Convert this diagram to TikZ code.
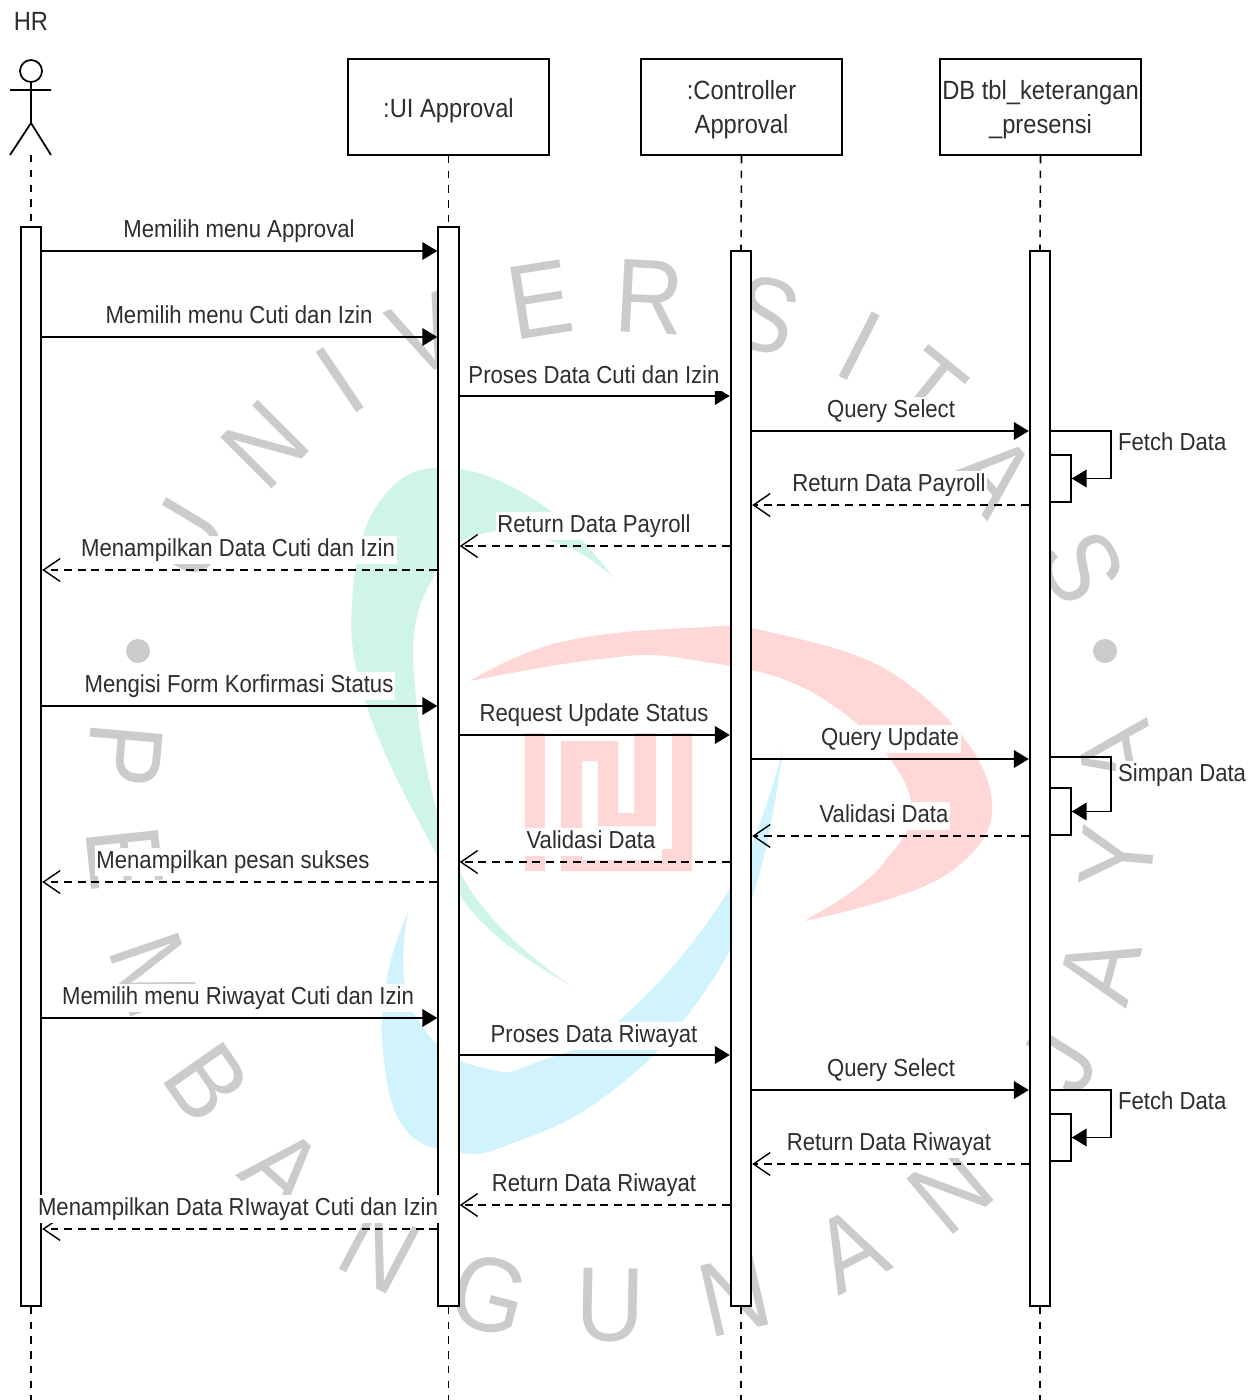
\documentclass[tikz,border=0pt]{standalone}
\usepackage{fontspec}
\setmainfont{Liberation Sans}[FakeStretch=0.9]
\usetikzlibrary{arrows.meta}

\tikzset{
    lifeBox/.style={draw=black, fill=white, line width=1.1pt, minimum width=4.02cm, minimum height=1.92cm, align=center, inner sep=0pt, text=textColour, font=\fontsize{15}{19}\selectfont, execute at begin node={\rule{0pt}{15.5pt}}},
    actBar/.style={draw=black, fill=white, line width=1.1pt, minimum width=0.41cm, inner sep=0pt},
    lifeLine/.style={black, line width=0.9pt, dash pattern=on 4.2pt off 4.2pt},
    msgCall/.style={black, line width=1.1pt, -{Triangle[length=8.5pt, width=10pt]}},
    msgBack/.style={black, line width=0.9pt, dash pattern=on 4.5pt off 3.2pt, -{Straight Barb[length=9.5pt, width=13pt, line width=0.8pt]}},
    msgLabel/.style={fill=white, inner xsep=1pt, inner ysep=1.5pt, text height=10pt, text depth=3pt, text=textColour, font=\fontsize{14}{16}\selectfont},
    markLetter/.style={inner sep=0pt, text=markGray, font=\fontsize{60}{60}\selectfont}
}

\begin{document}
\begin{tikzpicture}[x=0.02cm, y=-0.02cm]
    \definecolor{textColour}{HTML}{2E2E2E}
    \definecolor{markGray}{HTML}{CBCBCB}
    \definecolor{markGreen}{HTML}{CFF5E8}
    \definecolor{markRed}{HTML}{FFD7D7}
    \definecolor{markBlue}{HTML}{D1F3FE}

    % Fix the page
    \fill[white] (0,0) rectangle (1256,1400);
    \useasboundingbox (0,0) rectangle (1256,1400);

    % Draw the watermark swooshes
    \fill[markGreen] plot[smooth, tension=0.7] coordinates {(613,577) (544,506) (450,468) (383,497) (353,590) (366,704) (437,855) (490,930) (570,985)}
        -- plot[smooth, tension=0.7] coordinates {(570,985) (461,874) (414,676) (437,570) (490,532) (565,546) (613,577)} -- cycle;
    \fill[markRed] plot[smooth, tension=0.7] coordinates {(470,681) (557,643) (687,628) (774,633) (904,681) (990,789) (947,874) (804,921)}
        -- plot[smooth, tension=0.7] coordinates {(804,921) (882,865) (908,790) (817,695) (687,659) (600,659) (470,681)} -- cycle;
    \fill[markBlue] plot[smooth, tension=0.7] coordinates {(783,749) (752,898) (687,1016) (600,1100) (513,1143) (461,1153) (405,1129) (383,1053) (388,973) (408,912)}
        -- plot[smooth, tension=0.7] coordinates {(408,912) (405,985) (437,1044) (492,1070) (535,1063) (622,1018) (730,888) (783,749)} -- cycle;

    % Draw the watermark emblem
    \fill[markRed] (525,733) rectangle (545,871);
    \fill[markRed] (561,741) -- (618,741) -- (618,813) -- (634,813) -- (634,733) -- (656,733) -- (656,826) -- (598,826) -- (598,761) -- (582,761) -- (582,860) -- (662,860) -- (662,849) -- (672,849) -- (672,733) -- (692,733) -- (692,871) -- (561,871) -- cycle;

    % Draw the watermark letters
    \foreach \ch/\lx/\ly/\rot in {U/185/540/59, N/265/445/45, I/340/380/34, V/425/335/22, E/540/300/9, R/650/297/-3, S/765/315/-17, I/860/346/-27, T/927/390/-39, A/995/475/-49, S/1082/567/-64,
        P/125/755/-95, E/125/858/-84, M/155/975/-71, B/207/1083/-55, A/283/1170/-42, N/380/1250/-28, G/490/1295/-15, U/610/1305/-1, N/735/1295/13, A/850/1250/27, N/950/1190/40,
        J/1060/1060/58, A/1100/970/75, Y/1117/857/85, A/1117/755/100}
        \node[markLetter, rotate=\rot] at (\lx,\ly) {\ch};
    \fill[markGray] (138,651) circle (12);
    \fill[markGray] (1105,651) circle (12);

    % Draw the actor
    \node[text=textColour, font=\fontsize{15}{15}\selectfont, inner sep=0pt] (hrName) at (31,21) {HR};
    \draw[black, line width=1pt] (31,71) circle (11);
    \draw[black, line width=1pt] (31,82) -- (31,123) (10,90) -- (51,90) (10,155) -- (31,123) -- (51,155);
    \coordinate (hrFoot) at (31,155);

    % Draw the lifeline heads
    \node[lifeBox] (uiBox) at (448.5,107) {:UI Approval};
    \node[lifeBox, text depth=-0.5pt] (ctrlBox) at (741.5,107) {:Controller\\Approval};
    \node[lifeBox, text depth=-0.5pt] (dbBox) at (1040.5,107) {DB tbl\_keterangan\\\_presensi};

    % Draw the activation bars
    \node[actBar, minimum height=21.58cm] (hrBar) at (31,766.5) {};
    \node[actBar, minimum height=21.58cm] (uiBar) at (448.5,766.5) {};
    \node[actBar, minimum height=21.1cm] (ctrlBar) at (741,778.5) {};
    \node[actBar, minimum height=21.1cm] (dbBar) at (1040,778.5) {};
    \node[actBar, minimum height=0.94cm] (fetchBarA) at (1060.5,478.5) {};
    \node[actBar, minimum height=0.94cm] (saveBar) at (1060.5,811.5) {};
    \node[actBar, minimum height=0.94cm] (fetchBarB) at (1060.5,1137.5) {};

    % Draw the lifelines
    \draw[lifeLine] (hrFoot) -- (hrBar.north);
    \foreach \head/\bar in {uiBox/uiBar, ctrlBox/ctrlBar, dbBox/dbBar}
        \draw[lifeLine] (\head.south) -- (\bar.north);
    \foreach \bar in {hrBar, uiBar, ctrlBar, dbBar}
        \draw[lifeLine] (\bar.south) -- (\bar.south |- 0,1400);

    % Draw the calls
    \foreach \from/\to/\y in {hrBar/uiBar/251, hrBar/uiBar/337, uiBar/ctrlBar/396, ctrlBar/dbBar/431, hrBar/uiBar/706, uiBar/ctrlBar/735, ctrlBar/dbBar/759, hrBar/uiBar/1018, uiBar/ctrlBar/1055, ctrlBar/dbBar/1090}
        \draw[msgCall] (\from.east |- 0,\y) -- (\to.west |- 0,\y);

    % Draw the self calls
    \foreach \self/\y in {fetchBarA/431, saveBar/757, fetchBarB/1090}
        \draw[msgCall] (dbBar.east |- 0,\y) -- (1111,\y) |- (\self.east);

    % Draw the returns
    \foreach \from/\to/\y in {dbBar/ctrlBar/505, ctrlBar/uiBar/546, uiBar/hrBar/570, dbBar/ctrlBar/836, ctrlBar/uiBar/862, uiBar/hrBar/882, dbBar/ctrlBar/1164, ctrlBar/uiBar/1205, uiBar/hrBar/1229}
        \draw[msgBack] (\from.west |- 0,\y) -- (\to.east |- 0,\y);

    % Label the messages
    \foreach \lx/\ly/\txt in {239/229/Memilih menu Approval, 239/315/Memilih menu Cuti dan Izin, 594/375/Proses Data Cuti dan Izin, 891/409/Query Select, 889/483/Return Data Payroll, 594/524/Return Data Payroll, 238/548/Menampilkan Data Cuti dan Izin,
        239/684/Mengisi Form Korfirmasi Status, 594/713/Request Update Status, 890/737/Query Update, 884/814/Validasi Data, 591/840/Validasi Data, 233/860/Menampilkan pesan sukses,
        238/996/Memilih menu Riwayat Cuti dan Izin, 594/1034/Proses Data Riwayat, 891/1068/Query Select, 889/1142/Return Data Riwayat, 594/1183/Return Data Riwayat, 238/1207/Menampilkan Data RIwayat Cuti dan Izin}
        \node[msgLabel, yshift=-1.2pt] at (\lx,\ly) {\txt};
    \node[msgLabel, anchor=west] at (1116,444) {Fetch Data};
    \node[msgLabel, anchor=west] at (1116,775) {Simpan Data};
    \node[msgLabel, anchor=west] at (1116,1103) {Fetch Data};
\end{tikzpicture}
\end{document}
